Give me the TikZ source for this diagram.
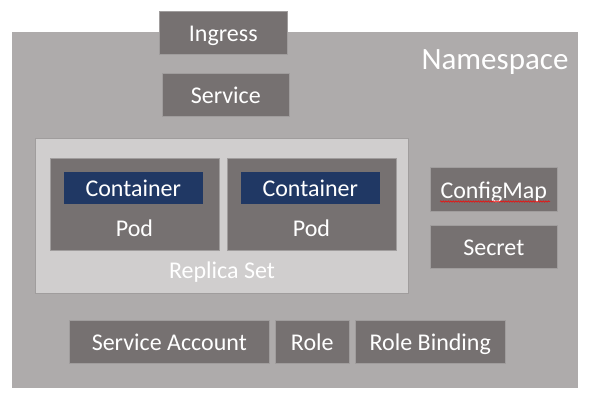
\documentclass[tikz,border=0pt]{standalone}
\usepackage{fontspec}
\setmainfont{Carlito}
\usetikzlibrary{decorations.pathmorphing}

\definecolor{nsgray}{HTML}{AEABAB}
\definecolor{objgray}{HTML}{767171}
\definecolor{rsgray}{HTML}{D0CECE}
\definecolor{ctrblue}{HTML}{203864}
\definecolor{edgegray}{HTML}{A09D9D}

\tikzset{
	objbox/.style={draw=edgegray, line width=0.6pt, fill=objgray, text=white, inner sep=0pt, anchor=north west,
		font=\fontsize{24}{28}\selectfont, text height=20pt, text depth=2pt},
	ctrbox/.style={objbox, fill=ctrblue, draw=objgray},
	rsbox/.style={draw=edgegray, line width=0.6pt, fill=rsgray, inner sep=0pt, anchor=north west},
	nsbox/.style={fill=nsgray, inner sep=0pt, anchor=north west},
	label/.style={text=white, inner sep=0pt, font=\fontsize{24}{28}\selectfont},
	squiggle/.style={red, line width=0.5pt, decorate, decoration={snake, segment length=2.5pt, amplitude=0.7pt}}
}

\begin{document}
\begin{tikzpicture}[x=1pt,y=-1pt]
			\useasboundingbox (0,0) rectangle (594,400);

			\node[nsbox, minimum width=566, minimum height=356] (ns) at (12,32) {};
			\node[label, font=\fontsize{31}{36}\selectfont] (nslabel) at (495,62) {Namespace};

			\node[objbox, minimum width=128, minimum height=43] (ingress) at (159,11) {Ingress};
			\node[objbox, minimum width=127, minimum height=43] (service) at (162,73) {Service};

			% replica set with two pods
			\node[rsbox, minimum width=373, minimum height=155] (rs) at (35,138) {};
			\node[label] (rslabel) at (222,272) {Replica Set};
			\foreach \i/\x in {1/50,2/227}
			{
				\node[objbox, minimum width=169, minimum height=92] (pod\i) at (\x,158) {};
				\node[ctrbox, minimum width=140, minimum height=33] (ctr\i) at (\x+13,171) {Container};
				\node[label] (podlabel\i) at (\x+84.5,228) {Pod};
			}

			\node[objbox, minimum width=127, minimum height=44] (cfgmap) at (430,167) {ConfigMap};
			\draw[squiggle] (440,201.5) -- (550,201.5);
			\node[objbox, minimum width=127, minimum height=43] (secret) at (430,225) {Secret};

			\node[objbox, minimum width=200, minimum height=43] (sa) at (69,320) {Service Account};
			\node[objbox, minimum width=74, minimum height=43] (role) at (275,320) {Role};
			\node[objbox, minimum width=150, minimum height=43] (rb) at (355,320) {Role Binding};
\end{tikzpicture}
\end{document}
